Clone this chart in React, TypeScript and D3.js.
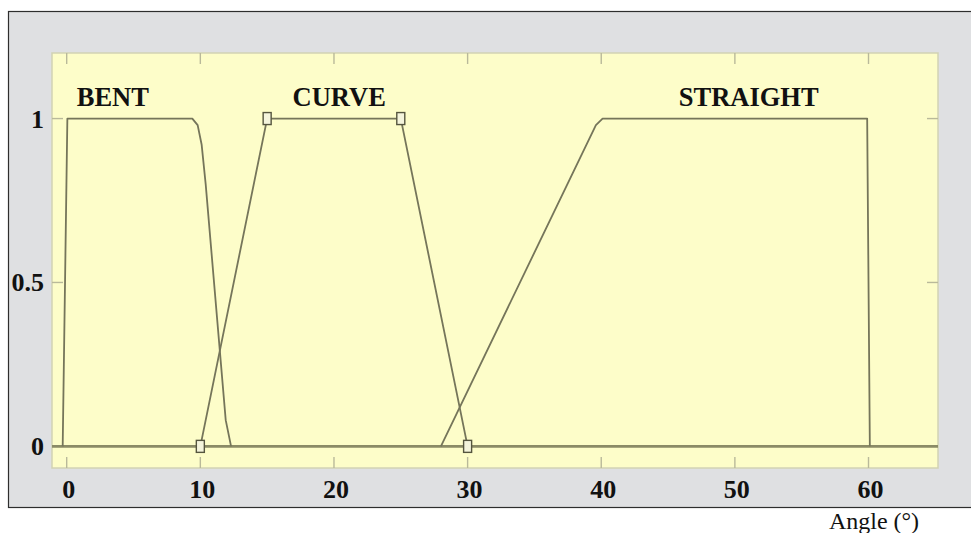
import * as d3 from "d3";

const W = 971;
const H = 533;

// plot frame in pixels
const PLOT = { left: 52, top: 53, right: 938, bottom: 468 };

const X_DOMAIN: [number, number] = [-1.1, 65.2];
const Y_DOMAIN: [number, number] = [-0.066, 1.2];

const xTicks = [0, 10, 20, 30, 40, 50, 60];
const yTicks = [0, 0.5, 1];
const yTickLabels = ["0", "0.5", "1"];

// membership functions
const bent: [number, number][] = [
  [-0.3, 0], [0.05, 1], [9.4, 1], [9.8, 0.98], [10.1, 0.92], [10.4, 0.8], [11.9, 0.08], [12.3, 0],
];
const curve: [number, number][] = [[10, 0], [15, 1], [25, 1], [30, 0]];
const straight: [number, number][] = [
  [28, 0], [39.6, 0.98], [40.1, 1], [59.9, 1], [60.1, 0],
];

const setLabels = [
  { name: "BENT", x: 0.75 },
  { name: "CURVE", x: 16.9 },
  { name: "STRAIGHT", x: 45.8 },
];

const LINE = "#75755a";
const FRAME_TICK = "#b9b99a";

export default function App() {
  const x = d3.scaleLinear().domain(X_DOMAIN).range([PLOT.left, PLOT.right]);
  const y = d3.scaleLinear().domain(Y_DOMAIN).range([PLOT.bottom, PLOT.top]);
  const line = d3
    .line<[number, number]>()
    .x((d) => x(d[0]))
    .y((d) => y(d[1]));

  const serif = "'Liberation Serif', 'DejaVu Serif', serif";

  return (
    <svg width={W} height={H} style={{ position: "absolute", left: 0, top: 0 }}>
      <rect width={W} height={H} fill="#ffffff" />
      <rect x={8.5} y={11.5} width={W + 10} height={496} fill="#dfe0e2" stroke="#2e2e2e" strokeWidth={1.2} />
      <rect
        x={PLOT.left}
        y={PLOT.top}
        width={PLOT.right - PLOT.left}
        height={PLOT.bottom - PLOT.top}
        fill="#fdfdc9"
        stroke="#d2d2b4"
        strokeWidth={1.5}
      />

      {/* frame ticks */}
      <g stroke={FRAME_TICK} strokeWidth={1.4}>
        {xTicks.map((t) => (
          <g key={t}>
            <line x1={x(t)} x2={x(t)} y1={PLOT.top} y2={PLOT.top + 11} />
            <line x1={x(t)} x2={x(t)} y1={PLOT.bottom} y2={PLOT.bottom - 11} />
          </g>
        ))}
        {yTicks.map((t) => (
          <g key={t}>
            <line x1={PLOT.left} x2={PLOT.left + 11} y1={y(t)} y2={y(t)} />
            <line x1={PLOT.right} x2={PLOT.right - 11} y1={y(t)} y2={y(t)} />
          </g>
        ))}
      </g>

      {/* zero line */}
      <line x1={PLOT.left} x2={PLOT.right} y1={y(0)} y2={y(0)} stroke="#8b8b66" strokeWidth={2.6} />

      <g fill="none" stroke={LINE} strokeWidth={1.8} strokeLinejoin="round">
        <path d={line(bent) ?? ""} />
        <path d={line(curve) ?? ""} />
        <path d={line(straight) ?? ""} />
      </g>

      {/* CURVE markers */}
      <g fill="#f4f4dc" stroke="#55553f" strokeWidth={1.4}>
        {curve.map((d, i) => (
          <rect key={i} x={x(d[0]) - 4} y={y(d[1]) - 6} width={8} height={12} />
        ))}
      </g>

      {/* set names */}
      <g fontFamily={serif} fontWeight="bold" fontSize={26.5} fill="#111">
        {setLabels.map((s) => (
          <text key={s.name} x={x(s.x)} y={106}>
            {s.name}
          </text>
        ))}
      </g>

      {/* tick labels */}
      <g fontFamily={serif} fontWeight="bold" fontSize={26} fill="#111">
        {xTicks.map((t) => (
          <text key={t} x={x(t) + 2} y={498} textAnchor="middle">
            {t}
          </text>
        ))}
        {yTicks.map((t, i) => (
          <text key={t} x={44} y={y(t) + 9} textAnchor="end">
            {yTickLabels[i]}
          </text>
        ))}
      </g>

      <text x={874} y={529} fontFamily={serif} fontSize={24} textAnchor="middle" fill="#111">
        Angle (°)
      </text>
    </svg>
  );
}
